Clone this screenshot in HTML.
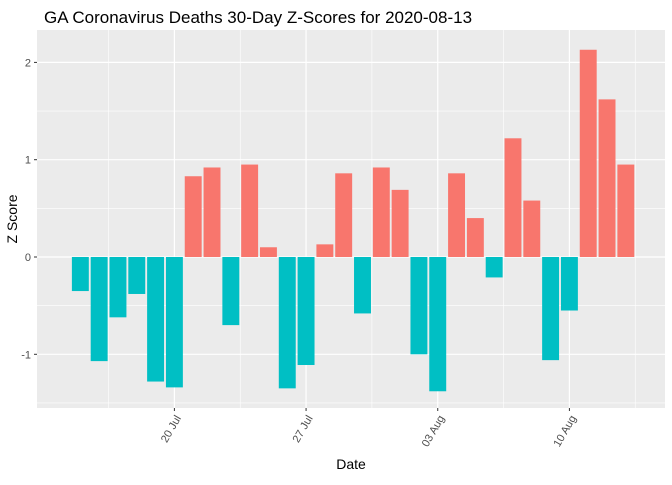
<!DOCTYPE html>
<html><head><meta charset="utf-8"><style>
body{margin:0;background:#fff;font-family:"Liberation Sans",sans-serif;}
</style></head><body>
<svg id="c" width="672" height="480" xmlns="http://www.w3.org/2000/svg">
<text x="44" y="23" font-size="17" fill="#000">GA Coronavirus Deaths 30-Day Z-Scores for 2020-08-13</text>
<rect x="37" y="30" width="628" height="378" fill="#ebebeb"/>
<g id="grid"></g><g id="bars"></g><g id="axes"></g>
<text x="351" y="469" font-size="14" text-anchor="middle" fill="#000">Date</text>
<text transform="translate(17,219) rotate(-90)" font-size="14" text-anchor="middle" fill="#000">Z Score</text>
</svg>
<script>
const dayOffsets = [15,16,17,18,19,20,21,22,23,24,25,26,27,28,29,30,31,32,33,34,35,36,37,38,39,40,41,42,43,44];
const zScores = [-0.35,-1.07,-0.62,-0.38,-1.28,-1.34,0.83,0.92,-0.70,0.95,0.10,-1.35,-1.11,0.13,0.86,-0.58,0.92,0.69,-1.00,-1.38,0.86,0.40,-0.21,1.22,0.58,-1.06,-0.55,2.13,1.62,0.95];
const xTickDays = [20,27,34,41];
const xTickLabels = ["20 Jul","27 Jul","03 Aug","10 Aug"];
const yTicks = [-1,0,1,2];
const NS="http://www.w3.org/2000/svg";
const X0=37,X1=665,Y0=30,Y1=408;
function x(d){return 174.4+(d-20)*18.81;}
function y(v){return 257-v*97.3;}
function mk(t,a,p){const e=document.createElementNS(NS,t);for(const k in a)e.setAttribute(k,a[k]);p.appendChild(e);return e;}
const grid=document.getElementById('grid'),bars=document.getElementById('bars'),axes=document.getElementById('axes');
for(let v=-1.5;v<=2.5;v+=1){const yy=y(v);if(yy>Y0&&yy<Y1){const l=mk('line',{x1:X0,x2:X1,y1:yy,y2:yy,stroke:'#fff','stroke-width':0.6},grid);}}
for(let d=xTickDays[0]-3.5;d<=xTickDays[xTickDays.length-1]+3.5;d+=7){const xx=x(d);if(xx>X0&&xx<X1){const l=mk('line',{x1:xx,x2:xx,y1:Y0,y2:Y1,stroke:'#fff','stroke-width':0.6},grid);}}
yTicks.forEach(v=>{const yy=y(v);
const l=mk('line',{x1:X0,x2:X1,y1:yy,y2:yy,stroke:'#fff','stroke-width':1.2},grid);
const tk=mk('line',{x1:X0-3,x2:X0,y1:yy,y2:yy,stroke:'#333','stroke-width':1},axes);
const t=mk('text',{x:X0-6,y:yy+4,'font-size':11,'text-anchor':'end',fill:'#4d4d4d'},axes);t.textContent=v;});
xTickDays.forEach((d,i)=>{const xx=x(d);
const l=mk('line',{x1:xx,x2:xx,y1:Y0,y2:Y1,stroke:'#fff','stroke-width':1.2},grid);
const tk=mk('line',{x1:xx,x2:xx,y1:Y1,y2:Y1+3,stroke:'#333','stroke-width':1},axes);
const t=mk('text',{transform:`translate(${xx+7},${Y1+10}) rotate(-60)`,'font-size':11,'text-anchor':'end',fill:'#4d4d4d'},axes);t.textContent=xTickLabels[i];});
const bw=0.9*18.81;
dayOffsets.forEach((d,i)=>{const v=zScores[i];const y0=y(0),yv=y(v);
const r=mk('rect',{x:x(d)-bw/2,y:Math.min(y0,yv),width:bw,height:Math.abs(yv-y0),fill:v>=0?'#f8766d':'#00bfc4'},bars);

});
</script>
</body></html>
